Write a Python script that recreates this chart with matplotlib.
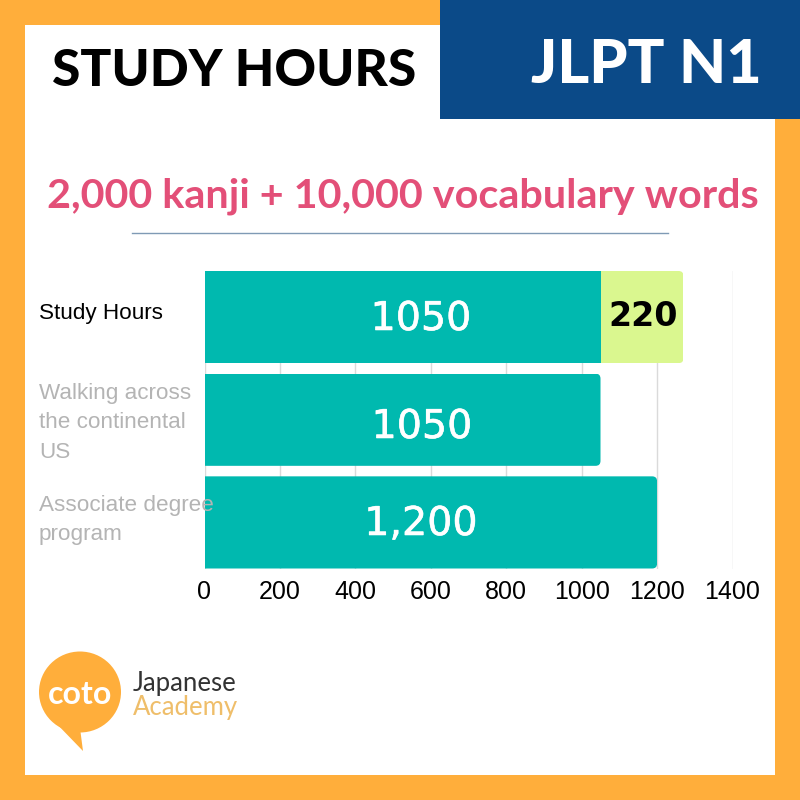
import matplotlib
matplotlib.use('Agg')
import matplotlib.pyplot as plt
import matplotlib.patheffects as pe
from matplotlib.patches import Rectangle, Ellipse, Polygon, FancyBboxPatch

CATEGORIES = ['Study Hours', 'Walking across\nthe continental\nUS', 'Associate degree\nprogram']
BASE_HOURS = [1050, 1050, 1200]
EXTRA_HOURS = [220, 0, 0]
BASE_LABELS = ['1050', '1050', '1,200']
EXTRA_LABEL = '220'
X_TICKS = [0, 200, 400, 600, 800, 1000, 1200, 1400]

ORANGE = '#FFAE3B'
BLUE = '#0B4A88'
TEAL = '#00B9AF'
LIME = '#DAF78F'
PINK = '#E34F78'
SANS = 'Liberation Sans'
W = 800.0


def pixel_axes(fig, zorder):
    # full-figure axes where data coordinates are image pixels
    ax = fig.add_axes([0, 0, 1, 1], zorder=zorder)
    ax.set_xlim(0, W)
    ax.set_ylim(W, 0)
    ax.axis('off')
    return ax


def rounded_clip(ax, left, right, y, height):
    # rounds the right-hand corners only: the box runs past the bar on the left
    pad = 30
    box = FancyBboxPatch((left - pad, y - height / 2), right - left + pad, height,
                         boxstyle='round,pad=0,rounding_size=13',
                         mutation_aspect=0.0037, transform=ax.transData)
    return box


fig = plt.figure(figsize=(8, 8), dpi=100)
fig.patch.set_facecolor(ORANGE)

bg = pixel_axes(fig, 0)
bg.add_patch(Rectangle((25, 25), 750, 750, color='white', lw=0))
bg.add_patch(Rectangle((440, 0), 360, 119, color=BLUE, lw=0))
bg.plot([132, 668], [232.5, 232.5], color='#7F9AB5', lw=1)

# chart, placed so that 0 sits at x=204.5 and 1400 at x=732.5
ax = fig.add_axes([204.5 / W, 1 - 568.5 / W, 528 / W, 297.5 / W], zorder=1)
ax.patch.set_alpha(0)
bar_h = 0.8976
ypos = list(range(len(CATEGORIES)))
base = ax.barh(ypos, BASE_HOURS, height=bar_h, color=TEAL, lw=0, zorder=3)
extra = ax.barh(ypos, EXTRA_HOURS, left=BASE_HOURS, height=bar_h, color=LIME, lw=0, zorder=3)
ax.set_xlim(0, 1400)
ax.set_ylim(max(ypos) + bar_h / 2, -bar_h / 2)

for y, b0, e0, bar, ebar in zip(ypos, BASE_HOURS, EXTRA_HOURS, base, extra):
    if e0 > 0:
        ebar.set_clip_path(rounded_clip(ax, b0, b0 + e0, y, bar_h))
    else:
        bar.set_clip_path(rounded_clip(ax, 0, b0, y, bar_h))

ax.set_xticks(X_TICKS)
ax.set_yticks([])
ax.tick_params(axis='x', length=0, pad=8, labelsize=18, labelcolor='black')
for lab in ax.get_xticklabels():
    lab.set_family(SANS)
ax.grid(axis='x', color='#DADADA', lw=1)
ax.set_axisbelow(True)
for side in ax.spines:
    ax.spines[side].set_visible(False)

fg = pixel_axes(fig, 2)

# header text
fg.text(234, 72, 'STUDY HOURS', family='Lato', weight='black', fontsize=37,
        color='black', ha='center', va='center')
fg.text(646, 65, 'JLPT N1', family='Lato', weight='black', fontsize=44,
        color='white', ha='center', va='center')
fg.text(402.5, 196, '2,000 kanji + 10,000 vocabulary words', family='Lato', weight='bold',
        fontsize=29.8, color=PINK, ha='center', va='center')

# category labels sit on top of the bars, as in the original
cat_y = [313, 423, 520]
cat_colors = ['black', '#B4B4B4', '#B4B4B4']
for name, y, col in zip(CATEGORIES, cat_y, cat_colors):
    fg.text(39, y, name, family=SANS, fontsize=16.2, color=col, ha='left', va='center',
            linespacing=1.56)

# value labels
thicker = [pe.withStroke(linewidth=0.4, foreground='white')]
val_x = [421, 422, 421]
val_y = [319, 427, 524]
for label, x, y in zip(BASE_LABELS, val_x, val_y):
    fg.text(x, y, label, family='DejaVu Sans', fontsize=28.5, color='white',
            ha='center', va='center', path_effects=thicker)
fg.text(643, 317, EXTRA_LABEL, family='DejaVu Sans', weight='bold', fontsize=24,
        color='black', ha='center', va='center')

# logo
fg.add_patch(Ellipse((80, 692), 82, 81, color=ORANGE, lw=0))
fg.add_patch(Polygon([(53, 720), (83, 751), (80, 728)], closed=True, color=ORANGE, lw=0))
fg.text(80.5, 694, 'coto', family='Lato', weight='bold', fontsize=23, color='white',
        ha='center', va='center')
fg.text(133, 683, 'Japanese', family='Lato', weight='normal', fontsize=18.5, color='#333333',
        ha='left', va='center')
fg.text(133, 707, 'Academy', family='Lato', weight='normal', fontsize=18.5, color='#EFBE6A',
        ha='left', va='center')

fig.savefig('out.png', dpi=100, facecolor=fig.get_facecolor())
plt.close(fig)
